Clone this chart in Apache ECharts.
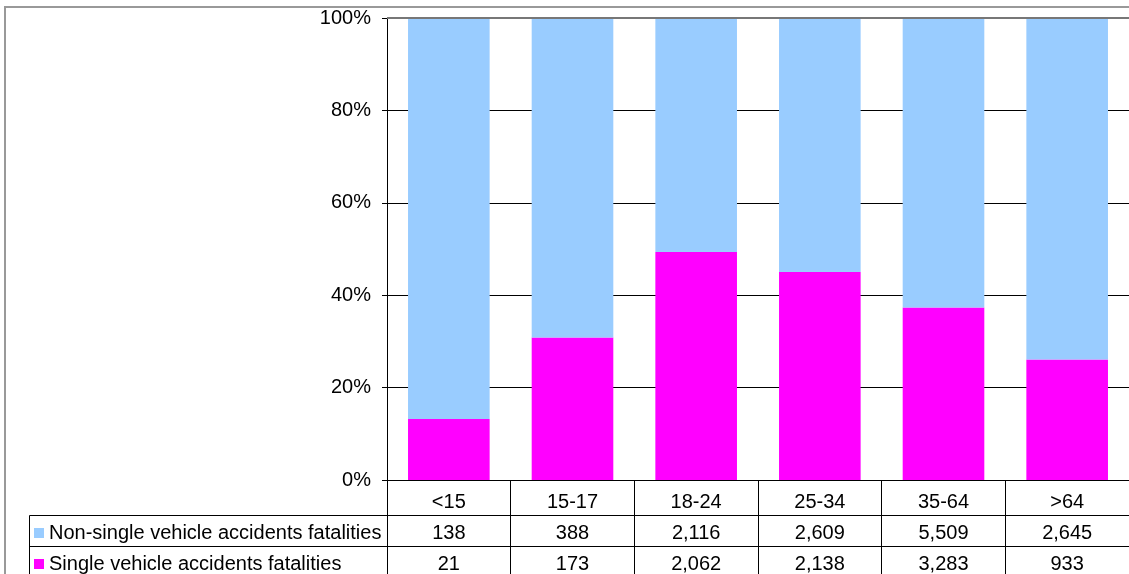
<!DOCTYPE html>
<html>
<head>
<meta charset="utf-8">
<script src="https://cdn.jsdelivr.net/npm/echarts@6/dist/echarts.min.js"></script>
<style>
  html, body { margin: 0; padding: 0; background: #fff; }
  #chart { width: 1129px; height: 574px; }
</style>
</head>
<body>
<div id="chart"></div>
<script>
// Age groups and fatality counts per accident type
const categories = ['<15', '15-17', '18-24', '25-34', '35-64', '>64'];
const nonSingleFatalities = [138, 388, 2116, 2609, 5509, 2645];
const singleFatalities = [21, 173, 2062, 2138, 3283, 933];
const yTicks = [0, 20, 40, 60, 80, 100];

const nonSingleName = 'Non-single vehicle accidents fatalities';
const singleName = 'Single vehicle accidents fatalities';

// Share of each accident type within the age group (100% stacked columns)
const totals = categories.map((_, i) => nonSingleFatalities[i] + singleFatalities[i]);
const singleShare = singleFatalities.map((v, i) => v / totals[i] * 100);
const nonSingleShare = nonSingleFatalities.map((v, i) => v / totals[i] * 100);

const FONT = '"Liberation Sans", Arial, sans-serif';
const FS = 20;
const fmt = v => v.toLocaleString('en-US');

const GRID = { left: 387, top: 18, width: 746, height: 462 };
const ROW1 = 35, ROW2 = 31;
const TABLE_TOP = GRID.top + GRID.height;

const chart = echarts.init(document.getElementById('chart'), null, { renderer: 'canvas' });

function tableAxis(offset, tickLen, labels, margin) {
  return {
    type: 'category',
    data: categories,
    position: 'bottom',
    offset: offset,
    gridIndex: 0,
    axisLine: { show: true, onZero: false, lineStyle: { color: '#000', width: 1 } },
    axisTick: { show: true, inside: false, length: tickLen, alignWithLabel: false, lineStyle: { color: '#000', width: 1 } },
    axisLabel: {
      show: true, interval: 0, margin: margin,
      color: '#000', fontSize: FS, fontFamily: FONT,
      formatter: (val, idx) => labels[idx]
    },
    splitLine: { show: false }
  };
}

// One legend per table row, so each key sits in its own row header
function rowLegend(name, top) {
  return {
    orient: 'vertical',
    left: 34,
    top: top,
    padding: 0,
    itemWidth: 10,
    itemHeight: 10,
    itemGap: 0,
    icon: 'rect',
    data: [name],
    textStyle: { color: '#000', fontSize: FS, fontFamily: FONT, lineHeight: 20 }
  };
}

const option = {
  animation: false,
  backgroundColor: '#fff',
  grid: GRID,
  legend: [
    rowLegend(nonSingleName, TABLE_TOP + ROW1 + 8),
    rowLegend(singleName, TABLE_TOP + ROW1 + ROW2 + 8)
  ],
  xAxis: [
    tableAxis(0, ROW1, categories, 12),
    tableAxis(ROW1, ROW2, nonSingleFatalities.map(fmt), 8),
    tableAxis(ROW1 + ROW2, 40, singleFatalities.map(fmt), 8)
  ],
  yAxis: {
    type: 'value',
    min: 0,
    max: 100,
    interval: 20,
    axisLine: { show: true, lineStyle: { color: '#000', width: 1 } },
    axisTick: { show: true, inside: false, length: 5, lineStyle: { color: '#000' } },
    axisLabel: {
      margin: 16, color: '#000', fontSize: FS, fontFamily: FONT,
      formatter: v => yTicks.includes(v) ? v + '%' : ''
    },
    splitLine: {
      show: true,
      lineStyle: { color: ['#000', '#000', '#000', '#000', '#000', '#777'], width: 1 }
    }
  },
  series: [
    {
      name: singleName,
      type: 'bar',
      stack: 'share',
      xAxisIndex: 0,
      barWidth: '66%',
      itemStyle: { color: '#FF00FF' },
      data: singleShare
    },
    {
      name: nonSingleName,
      type: 'bar',
      stack: 'share',
      xAxisIndex: 0,
      barWidth: '66%',
      itemStyle: { color: '#99CCFF' },
      data: nonSingleShare
    }
  ],
  graphic: [
    // chart area frame
    {
      type: 'rect', silent: true, z: 0,
      shape: { x: 5, y: 7, width: 1300, height: 700 },
      style: { fill: null, stroke: '#999', lineWidth: 2 }
    },
    // plot area top edge
    {
      type: 'line', silent: true, z: 5,
      shape: { x1: GRID.left, y1: GRID.top, x2: GRID.left + GRID.width, y2: GRID.top },
      style: { stroke: '#777', lineWidth: 2 }
    },
    // row-header column of the data table
    {
      type: 'polyline', silent: true, z: 5,
      shape: { points: [[GRID.left, TABLE_TOP + ROW1 + 0.5], [29.5, TABLE_TOP + ROW1 + 0.5], [29.5, 700]] },
      style: { fill: null, stroke: '#000', lineWidth: 1 }
    },
    {
      type: 'line', silent: true, z: 5,
      shape: { x1: 29.5, y1: TABLE_TOP + ROW1 + ROW2 + 0.5, x2: GRID.left, y2: TABLE_TOP + ROW1 + ROW2 + 0.5 },
      style: { stroke: '#000', lineWidth: 1 }
    }
  ]
};

chart.setOption(option);
</script>
</body>
</html>
